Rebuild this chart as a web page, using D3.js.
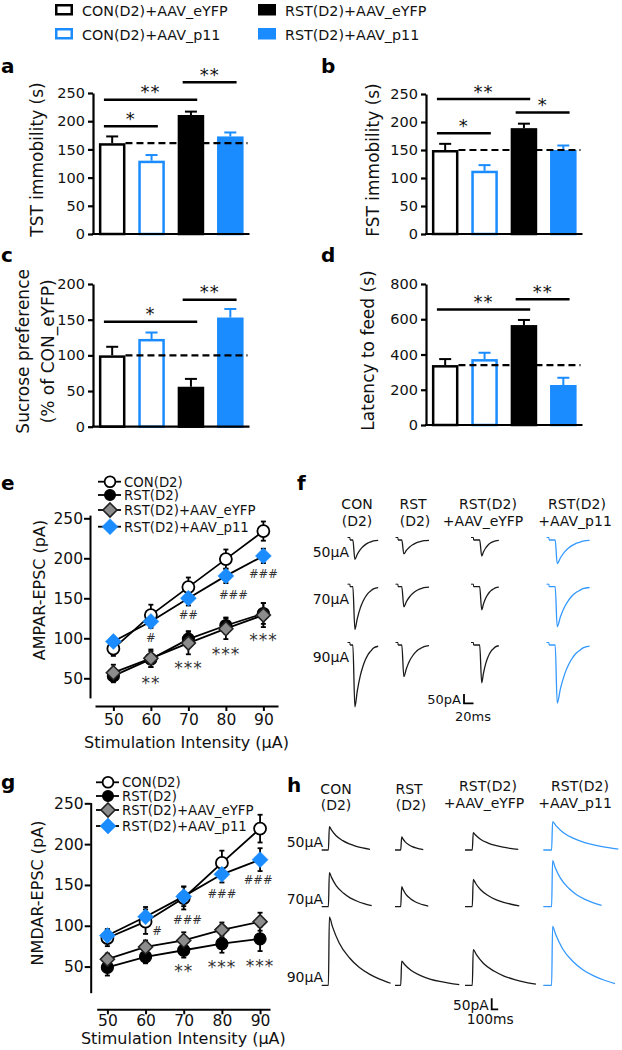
<!DOCTYPE html>
<html><head><meta charset="utf-8">
<script src="https://cdn.jsdelivr.net/npm/d3@7/dist/d3.min.js"></script>
<style>html,body{margin:0;padding:0;background:#fff;}svg{display:block;}</style>
</head><body>
<svg id="fig" width="622" height="1050"></svg>
<script>
// ================= DATA =================
const groups = ["CON(D2)+AAV_eYFP","CON(D2)+AAV_p11","RST(D2)+AAV_eYFP","RST(D2)+AAV_p11"];

const tstMean = [161,130,211,173];
const tstErr  = [12,10,6,7];
const tstSig  = [[0,1,191,"*"],[0,2,238,"**"],[2,3,269,"**"]];
const tstTicks = [0,50,100,150,200,250];

const fstMean = [150,113,189,150];
const fstErr  = [11,10,8,8];
const fstSig  = [[0,1,180,"*"],[0,2,241,"**"],[2,3,217,"*"]];
const fstTicks = [0,50,100,150,200,250];

const sucMean = [100,123,56,153];
const sucErr  = [12,9,11,12];
const sucSig  = [[0,2,147,"*"],[2,3,178,"**"]];
const sucTicks = [0,50,100,150,200];

const latMean = [340,374,567,227];
const latErr  = [34,36,29,41];
const latSig  = [[0,2,656,"**"],[2,3,713,"**"]];
const latTicks = [0,200,400,600,800];

const stim = [50,60,70,80,90];
const lineGroups = ["CON(D2)","RST(D2)","RST(D2)+AAV_eYFP","RST(D2)+AAV_p11"];

const ampaCon  = [87,129,164,199,234]; const ampaConErr  = [9,13,12,12,12];
const ampaRst  = [53,74,99,116,131];   const ampaRstErr  = [8,10,10,10,13];
const ampaEyfp = [57,75,94,112,129];   const ampaEyfpErr = [10,11,14,13,15];
const ampaP11  = [96,121,150,178,203]; const ampaP11Err  = [6,8,9,9,9];
const ampaHash = [[60,101,"#"],[70,129,"##"],[82,154,"###"],[90,180,"###"]];
const ampaStar = [[60,49,"**"],[70,68,"***"],[80,85,"***"],[90,103,"***"]];
const ampaTicks = [50,100,150,200,250];

const nmdaCon  = [85,105,134,177,219]; const nmdaConErr  = [10,15,14,15,17];
const nmdaRst  = [49,62,70,78,84];     const nmdaRstErr  = [10,8,9,11,15];
const nmdaEyfp = [59,74,82,95,105];    const nmdaEyfpErr = [7,8,10,9,11];
const nmdaP11  = [88,111,136,163,181]; const nmdaP11Err  = [8,12,12,10,14];
const nmdaHash = [[63,93,"#"],[71,107,"###"],[80,139,"###"],[89.5,156,"###"]];
const nmdaStar = [[70,50,"**"],[80,54,"***"],[90,56,"***"]];
const nmdaTicks = [50,100,150,200,250];

const traceHeadTop = ["CON","RST","RST(D2)","RST(D2)"];
const traceHeadBottom = ["(D2)","(D2)","+AAV_eYFP","+AAV_p11"];
const traceRows = ["50\u03bcA","70\u03bcA","90\u03bcA"];

// AMPA traces: peak amplitude (pA) per group x intensity, delay/decay in ms
const ampaAmp   = [[104,230,333],[75,108,170],[86,125,203],[127,215,313]];
const ampaDelay = [6,8,13,13];
const ampaDecay = [49,53,36,68];
const ampaShape = [[0,1],[0.1,0.75],[0.23,0.5],[0.35,0.34],[0.45,0.24],[0.57,0.15],[0.68,0.1],[0.8,0.05],[1,0.02]];

// NMDA traces
const nmdaAmp   = [[106,155,310],[60,91,110],[79,124,162],[129,209,268]];
const nmdaDelay = [103,88,112,128];
const nmdaDecay = [[625,651,943],[332,409,886],[692,708,965],[1011,754,960]];
const nmdaShape = [[0,1],[0.05,0.86],[0.16,0.62],[0.33,0.4],[0.49,0.26],[0.66,0.16],[0.82,0.09],[1,0.03]];

// ================= STYLE =================
const FONT = "'DejaVu Sans', Verdana, sans-serif";
const BLUE = "#1a8cff";
const TBLUE = "#3399ff";
const barFill = ["#ffffff","#ffffff","#000000",BLUE];
const barStroke = ["#000000",BLUE,"#000000",BLUE];

const svg = d3.select("#fig");

function text(g, x, y, s, size, o = {}) {
  const t = g.append("text").attr("x", x).attr("y", y).text(s)
    .attr("font-family", FONT).attr("font-size", size).attr("fill", o.fill || "#111");
  if (o.anchor) t.attr("text-anchor", o.anchor);
  if (o.weight) t.attr("font-weight", o.weight);
  if (o.rotate) t.attr("transform", `rotate(-90,${x},${y})`);
  if (o.ls) t.attr("letter-spacing", o.ls);
  return t;
}

// ================= TOP LEGEND =================
(function(){
  const g = svg.append("g");
  const cx = [55, 258], ry = [4, 28];
  groups.forEach((name, i) => {
    const col = i < 2 ? 0 : 1, row = i % 2;
    g.append("rect").attr("x", cx[col] + 1.25).attr("y", ry[row] + 1.25)
      .attr("width", 15.5).attr("height", 9)
      .attr("fill", barFill[i]).attr("stroke", barStroke[i]).attr("stroke-width", 2.5);
    text(g, cx[col] + 27, ry[row] + 12, name, 14.3);
  });
})();

// ================= BAR PANELS =================
function barPanel(p) {
  const g = svg.append("g");
  const x = d3.scaleBand().domain(groups).range([p.ax, p.ax + 156.5]).paddingInner(0.326).paddingOuter(0.15);
  const y = d3.scaleLinear().domain([0, p.max]).range([p.y0, p.y1]);
  const bw = x.bandwidth();
  p.mean.forEach((m, i) => {
    const cx = x(groups[i]) + bw / 2;
    g.append("line").attr("x1", cx).attr("x2", cx).attr("y1", y(m)).attr("y2", y(m + p.err[i]))
      .attr("stroke", barStroke[i]).attr("stroke-width", 2);
    g.append("line").attr("x1", cx - 6).attr("x2", cx + 6).attr("y1", y(m + p.err[i])).attr("y2", y(m + p.err[i]))
      .attr("stroke", barStroke[i]).attr("stroke-width", 2);
  });
  g.selectAll("rect.bar").data(p.mean).join("rect").attr("class", "bar")
    .attr("x", (d, i) => x(groups[i]) + 1.25).attr("y", d => y(d) + 1.25)
    .attr("width", bw - 2.5).attr("height", d => y(0) - y(d) - 1.25)
    .attr("fill", (d, i) => barFill[i]).attr("stroke", (d, i) => barStroke[i]).attr("stroke-width", 2.5);
  g.append("line").attr("x1", x(groups[0]) + bw).attr("x2", x.range()[1] - 2)
    .attr("y1", y(p.mean[0])).attr("y2", y(p.mean[0]))
    .attr("stroke", "#000").attr("stroke-width", 2.2).attr("stroke-dasharray", "7,4");
  const ag = g.append("g").attr("transform", `translate(${p.ax},0)`)
    .call(d3.axisLeft(y).tickValues(p.ticks).tickSize(5).tickPadding(3).tickSizeOuter(0));
  ag.select(".domain").attr("stroke", "#000").attr("stroke-width", 2.2);
  ag.selectAll(".tick line").attr("stroke", "#000").attr("stroke-width", 2.2);
  ag.selectAll(".tick text").attr("font-family", FONT).attr("font-size", 14.5).attr("fill", "#111");
  g.append("line").attr("x1", p.ax - 1).attr("x2", x.range()[1]).attr("y1", y(0)).attr("y2", y(0))
    .attr("stroke", "#000").attr("stroke-width", 2.2);
  p.sig.forEach(([a, b, v, lab]) => {
    const x1 = x(groups[a]) + 5, x2 = x(groups[b]) + bw - 7;
    g.append("line").attr("x1", x1).attr("x2", x2).attr("y1", y(v)).attr("y2", y(v))
      .attr("stroke", "#000").attr("stroke-width", 2.5);
    text(g, (x1 + x2) / 2, y(v) - 1.5, lab, 18, { anchor: "middle", ls: 1 });
  });
  const mid = (p.y0 + p.y1) / 2 - 4;
  p.label.forEach((l, k) => text(g, p.ax + p.labOff[k], mid, l, 17, { anchor: "middle", rotate: true }));
  text(g, p.letter[0], p.letter[1], p.letter[2], 20, { weight: "bold", fill: "#000" });
}

barPanel({ ax: 93, y0: 234, y1: 93, max: 250, ticks: tstTicks, mean: tstMean, err: tstErr, sig: tstSig,
  label: ["TST immobility (s)"], labOff: [-50], letter: [1, 73, "a"] });
barPanel({ ax: 426, y0: 234, y1: 94, max: 250, ticks: fstTicks, mean: fstMean, err: fstErr, sig: fstSig,
  label: ["FST immobility (s)"], labOff: [-47], letter: [321, 73, "b"] });
barPanel({ ax: 93, y0: 426.7, y1: 284, max: 200, ticks: sucTicks, mean: sucMean, err: sucErr, sig: sucSig,
  label: ["Sucrose preference", "(% of CON_eYFP)"], labOff: [-64, -39], letter: [1, 262, "c"] });
barPanel({ ax: 426, y0: 425, y1: 284, max: 800, ticks: latTicks, mean: latMean, err: latErr, sig: latSig,
  label: ["Latency to feed (s)"], labOff: [-52], letter: [321, 262, "d"] });

// ================= LINE PANELS =================
function diamond(h) { return `M0,${-h}L${h},0L0,${h}L${-h},0Z`; }
const markerStyles = [
  { type: "circle", r: 6, fill: "#fff", stroke: "#000", sw: 1.8 },
  { type: "circle", r: 6, fill: "#000", stroke: "#000", sw: 1.2 },
  { type: "diamond", h: 7, fill: "#8c8c8c", stroke: "#222", sw: 1.6 },
  { type: "diamond", h: 8, fill: BLUE, stroke: BLUE, sw: 0.5 }
];
function drawMarker(g, cx, cy, st, scale = 1) {
  if (st.type === "circle")
    g.append("circle").attr("cx", cx).attr("cy", cy).attr("r", st.r * scale)
      .attr("fill", st.fill).attr("stroke", st.stroke).attr("stroke-width", st.sw);
  else
    g.append("path").attr("d", diamond(st.h * scale)).attr("transform", `translate(${cx},${cy})`)
      .attr("fill", st.fill).attr("stroke", st.stroke).attr("stroke-width", st.sw);
}

function linePanel(p) {
  const g = svg.append("g");
  const x = d3.scaleLinear().domain(p.xd).range(p.xr);
  const y = d3.scaleLinear().domain(p.yd).range(p.yr);
  const ag = g.append("g").attr("transform", `translate(${p.ax},0)`)
    .call(d3.axisLeft(y).tickValues(p.ticks).tickSize(6).tickPadding(1).tickSizeOuter(0));
  ag.select(".domain").attr("stroke", "#000").attr("stroke-width", 2);
  ag.selectAll(".tick line").attr("stroke", "#000").attr("stroke-width", 2);
  ag.selectAll(".tick text").attr("font-family", FONT).attr("font-size", 15.5).attr("fill", "#111");
  const xg = g.append("g").attr("transform", `translate(0,${p.xy})`)
    .call(d3.axisBottom(x).tickValues(stim).tickSize(5).tickPadding(p.tickPad).tickSizeOuter(0));
  xg.select(".domain").attr("stroke", "#000").attr("stroke-width", 2);
  xg.selectAll(".tick line").attr("stroke", "#000").attr("stroke-width", 2);
  xg.selectAll(".tick text").attr("font-family", FONT).attr("font-size", 15.5).attr("fill", "#111");
  text(g, (p.xr[0] + p.xr[1]) / 2, p.xy + p.titleDy, "Stimulation Intensity (\u03bcA)", 16, { anchor: "middle" });
  text(g, p.ylabX, p.ylabY, p.ylab, 16, { anchor: "middle", rotate: true });
  text(g, 1, p.letterY, p.letter, 20, { weight: "bold", fill: "#000" });

  const line = d3.line().x((d, i) => x(stim[i])).y(d => y(d));
  p.series.forEach(([vals]) => {
    g.append("path").attr("d", line(vals)).attr("fill", "none").attr("stroke", "#000").attr("stroke-width", 1.8);
  });
  p.series.forEach(([vals, errs]) => {
    vals.forEach((v, i) => {
      const cx = x(stim[i]);
      g.append("line").attr("x1", cx).attr("x2", cx).attr("y1", y(v - errs[i])).attr("y2", y(v + errs[i]))
        .attr("stroke", "#000").attr("stroke-width", 1.8);
      [v - errs[i], v + errs[i]].forEach(e => g.append("line").attr("x1", cx - 2.5).attr("x2", cx + 2.5)
        .attr("y1", y(e)).attr("y2", y(e)).attr("stroke", "#000").attr("stroke-width", 1.8));
    });
  });
  p.series.forEach(([vals], si) => vals.forEach((v, i) => drawMarker(g, x(stim[i]), y(v), markerStyles[si])));
  p.hash.forEach(([xv, yv, s]) => text(g, x(xv), y(yv) + 4, s, 11.5, { anchor: "middle", fill: "#333" }));
  p.star.forEach(([xv, yv, s]) => text(g, x(xv), y(yv) + 10, s, 17, { anchor: "middle", fill: "#333", ls: 1 }));
  lineGroups.forEach((name, i) => {
    const ly = p.legY[i];
    g.append("line").attr("x1", p.legX - 12).attr("x2", p.legX + 11).attr("y1", ly).attr("y2", ly)
      .attr("stroke", "#000").attr("stroke-width", 1.8);
    drawMarker(g, p.legX, ly, markerStyles[i], i < 2 ? 0.9 : 1);
    text(g, p.legX + 14, ly + 5, name, 13.3);
  });
}

linePanel({
  ax: 90, xd: [45.1, 93.9], xr: [95, 278], xy: 706, tickPad: 3, titleDy: 42,
  yd: [25.5, 254], yr: [697.9, 515.1], ticks: ampaTicks,
  series: [[ampaCon, ampaConErr], [ampaRst, ampaRstErr], [ampaEyfp, ampaEyfpErr], [ampaP11, ampaP11Err]],
  hash: ampaHash, star: ampaStar, ylab: "AMPAR-EPSC (pA)", ylabX: 45, ylabY: 590,
  letter: "e", letterY: 490, legX: 110, legY: [481.7, 495, 510, 526.7]
});
linePanel({
  ax: 90.7, xd: [47.2, 92.6], xr: [96.7, 270], xy: 1009.3, tickPad: 1, titleDy: 35,
  yd: [18, 251], yr: [992.7, 802.5], ticks: nmdaTicks,
  series: [[nmdaCon, nmdaConErr], [nmdaRst, nmdaRstErr], [nmdaEyfp, nmdaEyfpErr], [nmdaP11, nmdaP11Err]],
  hash: nmdaHash, star: nmdaStar, ylab: "NMDAR-EPSC (pA)", ylabX: 43, ylabY: 893,
  letter: "g", letterY: 789, legX: 108, legY: [782.3, 796, 810, 826]
});

// ================= TRACE PANELS =================
function tracePanel(p) {
  const g = svg.append("g");
  const xT = d3.scaleLinear().domain([0, p.barMs]).range([0, p.barPxX]);
  const yT = d3.scaleLinear().domain([0, 50]).range([0, p.barPxY]);
  text(g, p.letterX, p.letterY, p.letter, 20, { weight: "bold", fill: "#000" });
  traceHeadTop.forEach((s, i) => text(g, p.headX1[i], p.headY1[i], s, 14, { anchor: "middle" }));
  traceHeadBottom.forEach((s, i) => text(g, p.headX2[i], p.headY2[i], s, 14, { anchor: "middle" }));
  traceRows.forEach((s, r) => text(g, p.rowLabX, p.rowY[r] + p.rowLabDy, s, 14, { anchor: "end" }));
  const line = d3.line().curve(d3.curveMonotoneX);
  groups.forEach((gname, c) => {
    traceRows.forEach((rname, r) => {
      const amp = p.amp[c][r], delay = p.delay[c], rise = p.rise;
      const dec = Array.isArray(p.decay[c]) ? p.decay[c][r] : p.decay[c];
      const pts = [[0, 0], [delay, 0]].concat(p.shape.map(([f, s]) => [delay + rise + f * dec, amp * s]));
      const X = d => p.colX[c] + xT(d[0]);
      const Y = d => p.rowY[r] + p.dir * yT(d[1]);
      const col = c === 3 ? TBLUE : "#1a1a1a";
      g.append("path").attr("d", line(pts.map(d => [X(d), Y(d)])))
        .attr("fill", "none").attr("stroke", col).attr("stroke-width", 1.3);
      if (p.hook) {
        const x0 = p.colX[c], y0 = p.rowY[r];
        g.append("path").attr("d", `M${x0 - 2.5},${y0 - 2.5}H${x0}V${y0}`)
          .attr("fill", "none").attr("stroke", col).attr("stroke-width", 1);
      }
    });
  });
  const sx = p.sbX, sy = p.sbY;
  g.append("path").attr("d", `M${sx},${sy - yT(50)}V${sy}H${sx + xT(p.barMs)}`)
    .attr("fill", "none").attr("stroke", "#000").attr("stroke-width", 1.8);
  text(g, sx - 3, sy + 1, "50pA", p.sbFont, { anchor: "end" });
  text(g, p.sbTX, p.sbTY, p.barMs + "ms", p.sbFont);
}

tracePanel({
  letter: "f", letterX: 297, letterY: 490,
  barMs: 20, barPxX: 9.5, barPxY: 9.3, dir: 1, rise: 4.3, hook: true,
  amp: ampaAmp, delay: ampaDelay, decay: ampaDecay, shape: ampaShape,
  colX: [350, 398, 473.5, 549], rowY: [540, 586.7, 645],
  headX1: [357, 413, 488, 577], headY1: [509, 509, 509, 509],
  headX2: [357, 415, 483, 575], headY2: [526, 526, 526, 526],
  rowLabX: 349, rowLabDy: 17,
  sbX: 464, sbY: 703.3, sbTX: 455, sbTY: 721, sbFont: 13
});
tracePanel({
  letter: "h", letterX: 287, letterY: 792,
  barMs: 100, barPxX: 6.5, barPxY: 11, dir: -1, rise: 15, hook: false,
  amp: nmdaAmp, delay: nmdaDelay, decay: nmdaDecay, shape: nmdaShape,
  colX: [321.7, 395, 465, 543.3], rowY: [850, 906.7, 985.3],
  headX1: [336, 409, 488, 580], headY1: [794, 794, 791, 791],
  headX2: [336, 411, 484, 575], headY2: [810, 810, 808, 808],
  rowLabX: 323, rowLabDy: -3,
  sbX: 491.7, sbY: 1009.3, sbTX: 466.7, sbTY: 1024, sbFont: 13.8
});
</script>
</body></html>
